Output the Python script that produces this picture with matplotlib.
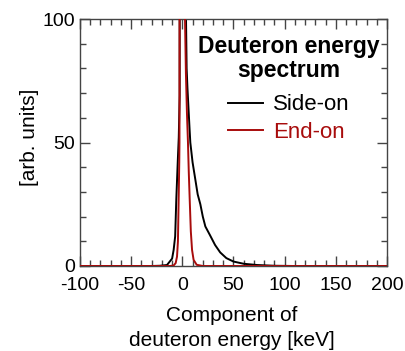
import matplotlib
matplotlib.use("Agg")
import matplotlib.pyplot as plt
from matplotlib.ticker import MultipleLocator

plt.rcParams['font.family'] = ['Liberation Sans', 'DejaVu Sans']

# Side-on spectrum (black); values above 100 are clipped by the axis
side_energy = [-100, -30, -22, -15, -10, -8.5, -7, -5.9, -4.5, -3.5, -2.6, -2.55,
               3.4, 3.6, 4.2, 5, 6, 7, 7.8, 10, 12.7, 15, 17.6, 20, 22.5, 27, 32,
               37, 43, 50, 60, 73, 90, 110, 200]
side_counts = [0, 0, 0.1, 0.4, 3, 6.5, 12, 27, 42, 52, 69, 250,
               250, 100, 80, 72, 64, 56, 50, 42, 35, 29, 25, 20, 16, 12.5, 8.5,
               5.5, 3.2, 1.8, 0.9, 0.4, 0.1, 0, 0]

# End-on spectrum (red)
end_energy = [-100, -12, -8.5, -6.5, -5.2, -4.3, -3.6, -3.0, -2.8, -2.7, -1, 1,
              2.6, 3.5, 4.5, 5.5, 6.3, 7.2, 8.3, 9.5, 11, 14, 20, 200]
end_counts = [0, 0, 0.2, 1.2, 3.8, 10, 27, 42, 50, 100, 180, 180,
              100, 78, 62, 50, 38, 27, 14, 6.5, 2.5, 0.5, 0, 0]

x_ticks = [-100, -50, 0, 50, 100, 150, 200]
y_ticks = [0, 50, 100]

RED = '#a80c0c'

fig = plt.figure(figsize=(4.06, 3.51), dpi=100)
ax = fig.add_axes([80/406, 1-266/351, (387-80)/406, (266-19)/351])

ax.plot(side_energy, side_counts, color='black', lw=1.4, label='Side-on', zorder=2)
ax.plot(end_energy, end_counts, color=RED, lw=1.4, label='End-on', zorder=3)

ax.set_xlim(-100, 200)
ax.set_ylim(0, 100)
ax.set_xticks(x_ticks)
ax.set_yticks(y_ticks)
ax.set_xticklabels([str(t) for t in x_ticks])
ax.set_yticklabels([str(t) for t in y_ticks])
ax.xaxis.set_minor_locator(MultipleLocator(10))
ax.yaxis.set_minor_locator(MultipleLocator(10))
ax.tick_params(which='both', direction='in', top=True, right=True, color='#444444',
               width=1.0)
ax.tick_params(which='major', length=7, labelsize=14)
ax.tick_params(which='minor', length=4)
ax.tick_params(axis='x', which='major', pad=8)
ax.tick_params(axis='y', which='major', pad=3.5)
for s in ax.spines.values():
    s.set_color('#444444')
    s.set_linewidth(1.0)

ax.set_ylabel('[arb. units]', fontsize=15)
ax.yaxis.set_label_coords(-0.135, 0.52)
ax.set_xlabel('Component of\ndeuteron energy [keV]', fontsize=15, linespacing=1.4)
ax.xaxis.set_label_coords(0.495, -0.162)

leg = ax.legend(loc='upper center', bbox_to_anchor=((289 - 80) / 307, 1 - 16 / 247),
                frameon=False, fontsize=16,
                title='Deuteron energy\nspectrum', handlelength=1.6,
                handletextpad=0.45, borderaxespad=0.0, borderpad=0.0,
                labelspacing=0.3)
title = leg.get_title()
title.set_fontweight('bold')
title.set_fontsize(16.5)
title.set_multialignment('center')
title.set_linespacing(1.05)
leg._legend_box.align = 'center'
leg._legend_box.sep = 9
for txt, c in zip(leg.get_texts(), ['black', RED]):
    txt.set_color(c)

fig.savefig('out.png', dpi=100)
